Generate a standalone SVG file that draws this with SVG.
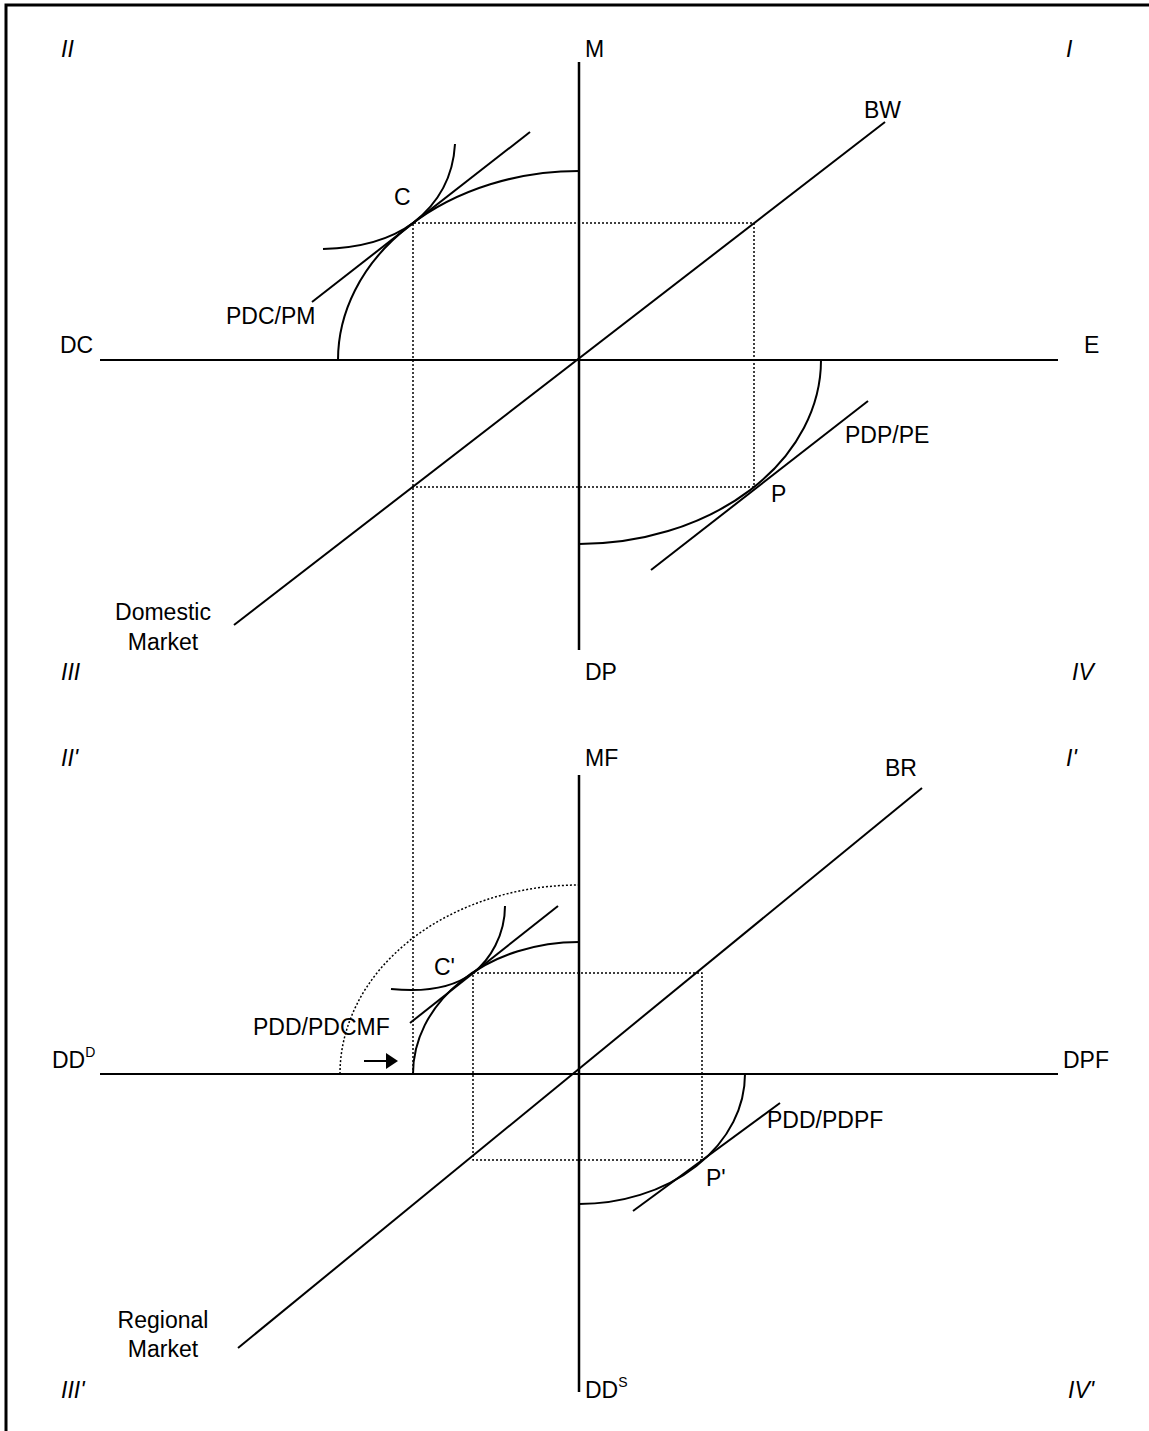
<svg xmlns="http://www.w3.org/2000/svg" width="1149" height="1431" viewBox="0 0 1149 1431">
<style>
text{font-family:"Liberation Sans",Arial,sans-serif;font-size:23px;fill:#000}
.it{font-style:italic}
.sup{font-size:14px}
.ln{stroke:#000;stroke-width:2;fill:none}
.ax{stroke:#000;stroke-width:2.5;fill:none}
.dot{stroke:#000;stroke-width:1.5;stroke-dasharray:2,2;fill:none}
</style>
<rect width="1149" height="1431" fill="#fff"/>
<path d="M6,1431 V5 H1149" stroke="#000" stroke-width="3" fill="none"/>
<g id="connectors">
<line class="ax" x1="579" y1="62" x2="579" y2="650"/>
<line class="ln" x1="100" y1="360" x2="1058" y2="360"/>
<line class="ln" x1="234" y1="625" x2="885" y2="122"/>
<path class="dot" d="M413,1074 V223 H754 V487 H413"/>
<path class="ln" d="M338,360 A241,189 0 0 1 579,171"/>
<path class="ln" d="M323,249 C360,248 390,240 413,223 C435,206 453,180 455,144"/>
<line class="ln" x1="312" y1="302" x2="530" y2="132"/>
<path class="ln" d="M821,360 A242,184 0 0 1 579,544"/>
<line class="ln" x1="651" y1="570" x2="868" y2="401"/>
<line class="ax" x1="579" y1="775" x2="579" y2="1392"/>
<line class="ln" x1="100" y1="1074" x2="1058" y2="1074"/>
<line class="ln" x1="238" y1="1348" x2="922" y2="788"/>
<path class="dot" d="M473,973 H702 V1160 H473 Z"/>
<path class="dot" d="M340,1074 A239,189 0 0 1 579,885"/>
<path class="ln" d="M413,1074 A166,132 0 0 1 579,942"/>
<path class="ln" d="M391,989 C420,992 450,990 473,973 C490,960 505,935 505,906"/>
<line class="ln" x1="410" y1="1023" x2="558" y2="906"/>
<path class="ln" d="M745,1074 A166,130 0 0 1 579,1204"/>
<line class="ln" x1="633" y1="1211" x2="780" y2="1103"/>
<line class="ln" x1="364" y1="1061" x2="388" y2="1061"/>
<polygon points="386,1053 398,1061 386,1069" fill="#000"/>
</g>
<g id="labels-top">
<text class="it" x="61" y="57">II</text>
<text x="585" y="57">M</text>
<text class="it" x="1066" y="57">I</text>
<text x="864" y="118">BW</text>
<text x="394" y="205">C</text>
<text x="226" y="324">PDC/PM</text>
<text x="60" y="353">DC</text>
<text x="1084" y="353">E</text>
<text x="845" y="443">PDP/PE</text>
<text x="771" y="502">P</text>
<text x="163" y="620" text-anchor="middle">Domestic</text>
<text x="163" y="650" text-anchor="middle">Market</text>
<text class="it" x="61" y="680">III</text>
<text x="585" y="680">DP</text>
<text class="it" x="1072" y="680">IV</text>
</g>
<g id="labels-bottom">
<text class="it" x="61" y="766">II'</text>
<text x="585" y="766">MF</text>
<text class="it" x="1066" y="766">I'</text>
<text x="885" y="776">BR</text>
<text x="434" y="975">C'</text>
<text x="253" y="1035">PDD/PDCMF</text>
<text x="52" y="1068">DD<tspan class="sup" dy="-11">D</tspan></text>
<text x="1063" y="1068">DPF</text>
<text x="767" y="1128">PDD/PDPF</text>
<text x="706" y="1186">P'</text>
<text x="163" y="1328" text-anchor="middle">Regional</text>
<text x="163" y="1357" text-anchor="middle">Market</text>
<text class="it" x="61" y="1398">III'</text>
<text x="585" y="1398">DD<tspan class="sup" dy="-11">S</tspan></text>
<text class="it" x="1068" y="1398">IV'</text>
</g>
</svg>
